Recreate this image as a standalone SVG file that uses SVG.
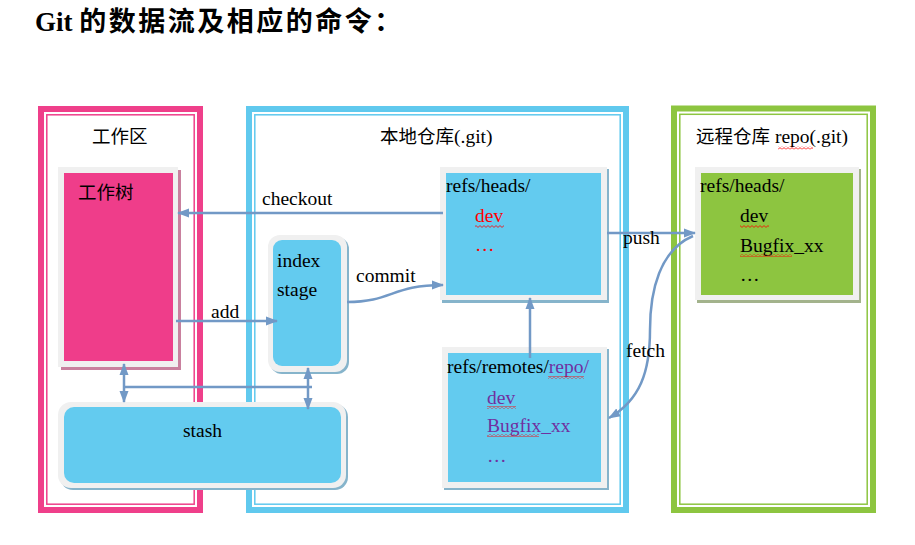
<svg xmlns="http://www.w3.org/2000/svg" width="915" height="545" viewBox="0 0 915 545">
<style>
.t{font-family:"Liberation Serif","Noto Sans CJK SC",serif;font-size:19.5px;fill:#000}
.c{font-family:"Noto Sans CJK SC","Liberation Serif",sans-serif;font-size:18.5px;fill:#000}
.red{fill:#ff0000}
.pur{fill:#7030a0}
.gray{fill:#f0f0f0}
.conn{fill:none;stroke:#7299c6;stroke-width:2.5}
</style>
<defs>
<marker id="ah" markerUnits="userSpaceOnUse" markerWidth="12" markerHeight="10" refX="11" refY="5" orient="auto-start-reverse">
<path d="M0,0.5 L12,5 L0,9.5 z" fill="#7299c6"/>
</marker>
<pattern id="wave" width="4" height="3" patternUnits="userSpaceOnUse">
<path d="M0,0.6 L2,2.4 L4,0.6" fill="none" stroke="#ff0000" stroke-width="0.8"/>
</pattern>
</defs>
<rect width="915" height="545" fill="#fff"/>

<text x="35" y="31" style="font-family:'Liberation Serif','Noto Sans CJK SC',serif;font-size:27px;font-weight:bold">Git <tspan style="font-family:'Noto Sans CJK SC',sans-serif;letter-spacing:2.5px">的数据流及相应的命令：</tspan></text>

<g id="frame-work">
<rect x="41" y="109" width="159" height="401" fill="none" stroke="#ef3f8a" stroke-width="6"/>
<rect x="46.8" y="114.8" width="147.4" height="389.4" fill="none" stroke="#ef3f8a" stroke-width="1.5"/>
<text class="c" x="92" y="143">工作区</text>
</g>
<g id="frame-local">
<rect x="249" y="109" width="377" height="401" fill="none" stroke="#60c9ee" stroke-width="6"/>
<rect x="254.8" y="114.8" width="365.4" height="389.4" fill="none" stroke="#60c9ee" stroke-width="1.5"/>
<text class="t" x="380" y="143"><tspan class="c">本地仓库</tspan>(.git)</text>
</g>
<g id="frame-remote">
<rect x="674" y="108.5" width="199" height="401.5" fill="none" stroke="#8dc540" stroke-width="6"/>
<rect x="679.8" y="114.3" width="187.4" height="389.9" fill="none" stroke="#8dc540" stroke-width="1.5"/>
<text class="t" x="696" y="143"><tspan class="c">远程仓库</tspan> repo(.git)</text>
<rect x="778" y="146.5" width="35" height="3" fill="url(#wave)"/>
</g>

<g id="worktree">
<rect x="61" y="170" width="120" height="200" fill="#c9809e"/>
<rect class="gray" x="58" y="167" width="120" height="200"/>
<rect x="64" y="173" width="109" height="188" fill="#ef3d8a"/>
<text class="c" x="78" y="199">工作树</text>
</g>

<g id="index">
<rect x="270" y="237" width="79" height="137" rx="12" fill="#86b4cb"/>
<rect class="gray" x="268" y="235" width="79" height="137" rx="12"/>
<rect x="273" y="240" width="68" height="126" rx="9" fill="#63cbef"/>
<text class="t" x="277" y="267">index</text>
<text class="t" x="277" y="296">stage</text>
</g>

<g id="stash">
<rect x="60" y="404" width="288" height="86" rx="13" fill="#86b4cb"/>
<rect class="gray" x="58" y="402" width="288" height="86" rx="13"/>
<rect x="64" y="407" width="277" height="76" rx="10" fill="#63cbef"/>
<text class="t" x="183" y="437">stash</text>
</g>

<g id="local-heads">
<rect x="442" y="169" width="167" height="134" fill="#86b4cb"/>
<rect class="gray" x="440" y="167" width="167" height="133"/>
<rect x="446" y="173" width="155" height="122" fill="#63cbef"/>
<text class="t" x="446" y="192">refs/heads/</text>
<text class="t red" x="475" y="222">dev</text>
<rect x="475" y="225" width="29" height="3" fill="url(#wave)"/>
<text class="t red" x="475" y="251">…</text>
</g>

<g id="local-remotes">
<rect x="444" y="349" width="165" height="141" fill="#86b4cb"/>
<rect class="gray" x="442" y="347" width="165" height="141"/>
<rect x="448" y="353" width="153" height="129" fill="#63cbef"/>
<text class="t" x="447" y="373">refs/remotes/<tspan class="pur">repo/</tspan></text>
<rect x="548" y="376" width="36" height="3" fill="url(#wave)"/>
<text class="t pur" x="487" y="404">dev</text>
<rect x="487" y="406" width="29" height="3" fill="url(#wave)"/>
<text class="t pur" x="487" y="432">Bugfix_xx</text>
<rect x="487" y="434" width="52" height="3" fill="url(#wave)"/>
<text class="t pur" x="487" y="462">…</text>
</g>

<g id="remote-heads">
<rect x="697" y="169" width="164" height="134" fill="#a3b38c"/>
<rect class="gray" x="695" y="167" width="164" height="133"/>
<rect x="701" y="173" width="152" height="122" fill="#8dc540"/>
<text class="t" x="700" y="192">refs/heads/</text>
<text class="t" x="740" y="222">dev</text>
<rect x="740" y="225" width="29" height="3" fill="url(#wave)"/>
<text class="t" x="740" y="252">Bugfix_xx</text>
<rect x="740" y="254" width="52" height="3" fill="url(#wave)"/>
<text class="t" x="740" y="281">…</text>
</g>

<g id="connectors">
<path class="conn" d="M443,213 L178,213" marker-end="url(#ah)"/>
<path class="conn" d="M176,321 L277,321" marker-end="url(#ah)"/>
<path class="conn" d="M347,302 C392,302 392,285 443,285" marker-end="url(#ah)"/>
<path class="conn" d="M530,358 L530,298" marker-end="url(#ah)"/>
<path class="conn" d="M607,233 L695,233" marker-end="url(#ah)"/>
<path class="conn" d="M693,236 C660,250 650,290 650,330 C650,372 640,400 609,418" marker-end="url(#ah)"/>
<path class="conn" d="M124,364 L124,402" marker-start="url(#ah)" marker-end="url(#ah)"/>
<path class="conn" d="M308,368 L308,409" marker-start="url(#ah)" marker-end="url(#ah)"/>
<path class="conn" d="M124,387 L312,387"/>
<text class="t" x="262" y="205">checkout</text>
<text class="t" x="211" y="318">add</text>
<text class="t" x="356" y="282">commit</text>
<text class="t" x="623" y="244">push</text>
<text class="t" x="626" y="357">fetch</text>
</g>
</svg>
